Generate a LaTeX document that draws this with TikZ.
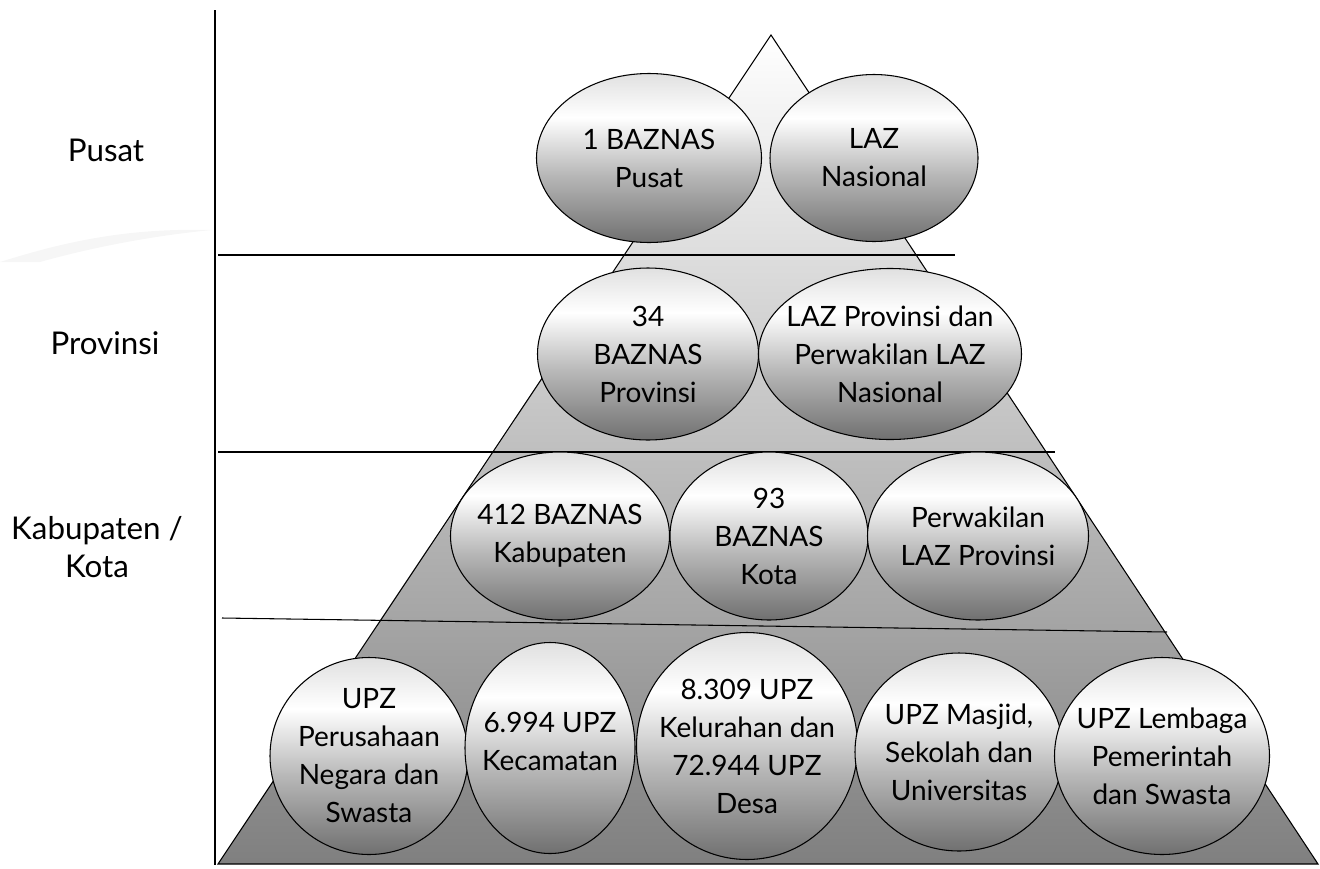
\documentclass[tikz,border=0pt]{standalone}
\usepackage{fontspec}
\setmainfont{Lato}
\usepackage{tikz}
\usetikzlibrary{shapes.geometric}

\definecolor{balldark}{gray}{0.44}
\definecolor{ballmid}{gray}{0.72}
\definecolor{balltop}{gray}{0.88}
\pgfdeclareverticalshading{ballshade}{100bp}{color(0bp)=(balldark); color(25bp)=(balldark); color(45bp)=(ballmid); color(62bp)=(white); color(75bp)=(balltop); color(100bp)=(balltop)}

\tikzset{
  bubble/.style={ellipse, draw=black, line width=0.8pt, shade, shading=ballshade, inner sep=0pt},
  bubbletext/.style={align=center, inner sep=0pt, font=\fontsize{21}{28.5}\selectfont},
  leveltext/.style={align=center, font=\fontsize{23.5}{29}\selectfont},
  sepline/.style={line width=0.8pt},
}

\begin{document}
\begin{tikzpicture}[x=0.75pt,y=-0.75pt]
  \useasboundingbox (0,0) rectangle (1320,868);
  % faint swoosh in the background
  \fill[gray!7] (0,262) .. controls (70,240) and (130,228) .. (212,230) .. controls (150,236) and (90,248) .. (40,262) -- cycle;
  % pyramid
  \shadedraw[top color=white, bottom color=black!50, draw=black, line width=0.8pt]
    (218,864) -- (771,35) -- (1318,864) -- cycle;
  \draw[sepline] (215,10) -- (215,865);
  \draw[sepline] (218,255) -- (955,255);
  \draw[sepline] (218,452) -- (1055,452);
  \draw[sepline] (222,618) -- (1167,632);

  % levels
  \node[leveltext] (pusat) at (106,150) {Pusat};
  \node[leveltext] (provinsi) at (105,343) {Provinsi};
  \node[leveltext] (kabkota) at (97,547) {Kabupaten /\\Kota};

  % pusat
  \node[bubble, minimum width=225*0.75pt, minimum height=169*0.75pt] (pusat-baznas) at (649,158) {};
  \node[bubbletext] (pusat-baznas-t) at (pusat-baznas) {1 BAZNAS\\Pusat};
  \node[bubble, minimum width=208*0.75pt, minimum height=167*0.75pt] (pusat-laz) at (874,158) {};
  \node[bubbletext] (pusat-laz-t) at (pusat-laz) {LAZ\\Nasional};

  % provinsi
  \node[bubble, minimum width=221*0.75pt, minimum height=172*0.75pt] (prov-baznas) at (648,354) {};
  \node[bubbletext] (prov-baznas-t) at (prov-baznas) {34\\BAZNAS\\Provinsi};
  \node[bubble, minimum width=263*0.75pt, minimum height=171*0.75pt] (prov-laz) at (890,354) {};
  \node[bubbletext] (prov-laz-t) at (prov-laz) {LAZ Provinsi dan\\Perwakilan LAZ\\Nasional};

  % kabupaten / kota
  \node[bubble, minimum width=219*0.75pt, minimum height=168*0.75pt] (kab-baznas) at (560,536) {};
  \node[bubbletext] (kab-baznas-t) at (kab-baznas) {412 BAZNAS\\Kabupaten};
  \node[bubble, minimum width=198*0.75pt, minimum height=168*0.75pt] (kota-baznas) at (769,536) {};
  \node[bubbletext] (kota-baznas-t) at (kota-baznas) {93\\BAZNAS\\Kota};
  \node[bubble, minimum width=221*0.75pt, minimum height=168*0.75pt] (kab-laz) at (978,536) {};
  \node[bubbletext] (kab-laz-t) at (kab-laz) {Perwakilan\\LAZ Provinsi};

  % UPZ
  \node[bubble, minimum width=198*0.75pt, minimum height=197*0.75pt] (upz-bumn) at (369,756) {};
  \node[bubbletext] (upz-bumn-t) at (upz-bumn) {UPZ\\Perusahaan\\Negara dan\\Swasta};
  \node[bubble, minimum width=170*0.75pt, minimum height=211*0.75pt] (upz-kec) at (550,748) {};
  \node[bubbletext] (upz-kec-t) at ([yshift=5]upz-kec) {6.994 UPZ\\Kecamatan};
  \node[bubble, minimum width=221*0.75pt, minimum height=227*0.75pt] (upz-desa) at (747,746) {};
  \node[bubbletext] (upz-desa-t) at (upz-desa) {8.309 UPZ\\Kelurahan dan\\72.944 UPZ\\Desa};
  \node[bubble, minimum width=208*0.75pt, minimum height=198*0.75pt] (upz-masjid) at (959,752) {};
  \node[bubbletext] (upz-masjid-t) at (upz-masjid) {UPZ Masjid,\\Sekolah dan\\Universitas};
  \node[bubble, minimum width=215*0.75pt, minimum height=197*0.75pt] (upz-lembaga) at (1162,756) {};
  \node[bubbletext] (upz-lembaga-t) at (upz-lembaga) {UPZ Lembaga\\Pemerintah\\dan Swasta};
\end{tikzpicture}
\end{document}
